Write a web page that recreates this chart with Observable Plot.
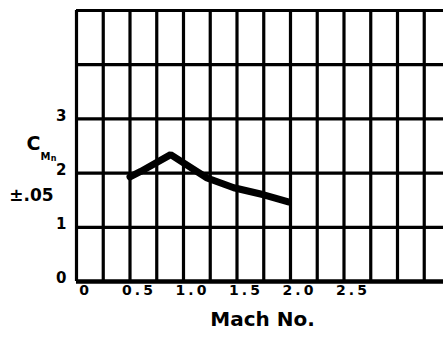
<!DOCTYPE html>
<html>
<head>
<meta charset="utf-8">
<script src="https://cdn.jsdelivr.net/npm/d3@7"></script>
<script src="https://cdn.jsdelivr.net/npm/@observablehq/plot@0.6"></script>
<style>
  html, body { margin: 0; padding: 0; background: #fff; }
  svg { display: block; }
  g[aria-label="x-axis tick label"] text { letter-spacing: 3px; }
</style>
</head>
<body>
<div id="chart"></div>
<script>
// Data
const mach = [0.5, 0.6, 0.88, 1.22, 1.47, 1.75, 1.98];
const cm   = [1.93, 2.03, 2.34, 1.91, 1.73, 1.60, 1.47];

const xTicks = [0, 0.5, 1.0, 1.5, 2.0, 2.5];
const xTickLabels = ["0", "0.5", "1.0", "1.5", "2.0", "2.5"];
const yTicks = [0, 1, 2, 3];
const yTickLabels = ["0", "1", "2", "3"];
const xGrid = d3.range(0, 3.26, 0.25);
const yGrid = [0, 1, 2, 3, 4, 5];

const xTitle = "Mach No.";
const yTitleMain = "C";
const yTitleSub = "M";
const yTitleSubSub = "n";
const yTolerance = "\u00b1.05";

const points = mach.map((m, i) => ({m, c: cm[i]}));
const font = "'DejaVu Sans', sans-serif";

const W = 443, H = 340;
const mL = 76, mT = 10, mB = 59, mR = 0;

const chart = Plot.plot({
  width: W,
  height: H,
  marginLeft: mL,
  marginTop: mT,
  marginBottom: mB,
  marginRight: mR,
  style: {fontFamily: font, background: "#fff", color: "#000"},
  x: {domain: [0, 3.43], axis: null},
  y: {domain: [0, 5], axis: null},
  marks: [
    Plot.ruleX(xGrid, {stroke: "#000", strokeWidth: 3.2}),
    Plot.ruleY(yGrid, {stroke: "#000", strokeWidth: 3.2}),
    Plot.ruleY([0], {stroke: "#000", strokeWidth: 4.5}),
    Plot.line(points, {x: "m", y: "c", stroke: "#000", strokeWidth: 7, strokeLinejoin: "miter"}),
    Plot.axisX(xTicks, {tickSize: 0, tickPadding: 4, tickFormat: (d, i) => xTickLabels[i], fontSize: 14, fontWeight: "bold", dx: 9, label: null}),
    Plot.axisY(yTicks, {tickSize: 0, tickPadding: 10, tickFormat: (d, i) => yTickLabels[i], fontSize: 15, fontWeight: "bold", dy: -3, label: null}),
    Plot.text([yTitleMain], {frameAnchor: "top-left", dx: 33 - mL, dy: 136 - mT, fontSize: 19, fontWeight: "bold", textAnchor: "middle"}),
    Plot.text([yTitleSub], {frameAnchor: "top-left", dx: 45 - mL, dy: 152 - mT, fontSize: 10, fontWeight: "bold", textAnchor: "middle"}),
    Plot.text([yTitleSubSub], {frameAnchor: "top-left", dx: 53 - mL, dy: 155 - mT, fontSize: 8, fontWeight: "bold", textAnchor: "middle"}),
    Plot.text([yTolerance], {frameAnchor: "top-left", dx: 31 - mL, dy: 188 - mT, fontSize: 17, fontWeight: "bold", textAnchor: "middle"}),
    Plot.text([xTitle], {frameAnchor: "bottom-left", dx: 262 - mL, dy: 325 - (H - mB), fontSize: 20, fontWeight: "bold", textAnchor: "middle"})
  ]
});
document.getElementById("chart").appendChild(chart);
</script>
</body>
</html>
